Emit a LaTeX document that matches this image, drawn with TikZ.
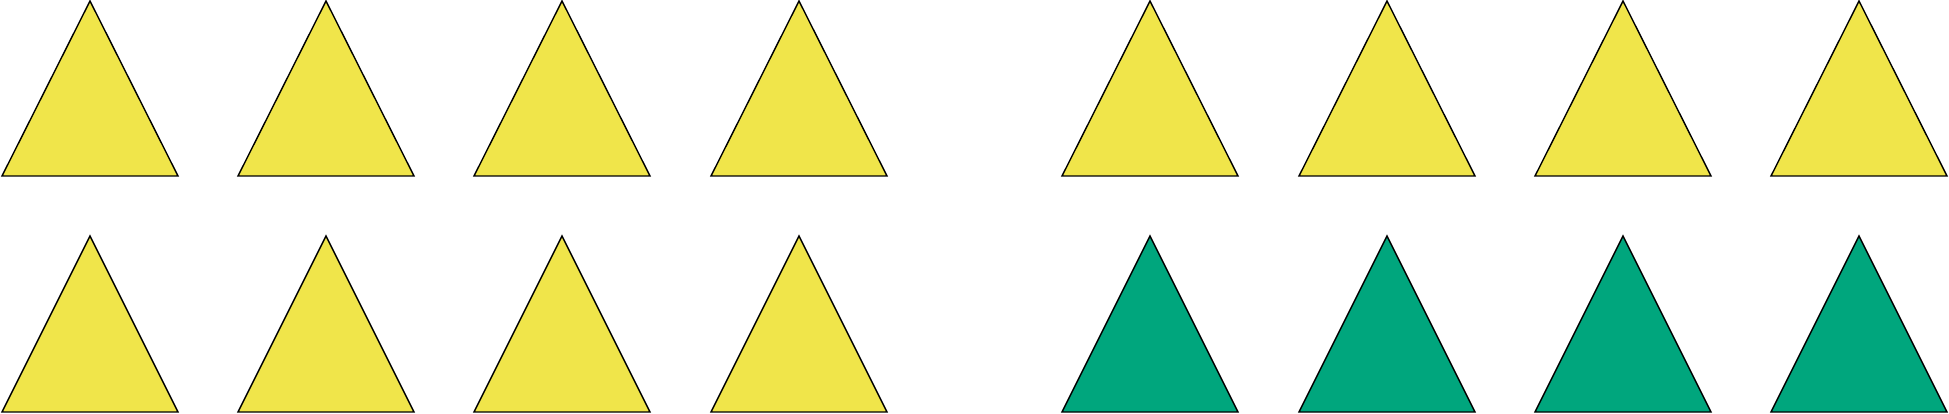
\documentclass[tikz,border=0pt]{standalone}
\usepackage{xcolor,tikz}
\usetikzlibrary{positioning}
\definecolor{TriYellow}{HTML}{F0E54A}
\definecolor{TriGreen}{HTML}{00A67D}
\tikzset{tri/.style={draw=black,line width=1.4pt,line join=miter}}
\begin{document}
\begin{tikzpicture}[x=1pt,y=-1pt]
\useasboundingbox (0,0) rectangle (1949,414);
% top row
\foreach \x in {90,326,562,799,1150,1387,1623,1859}
 \draw[tri,fill=TriYellow] (\x,1)--++(88,175)--++(-176,0)--cycle;
% bottom row
\foreach \x/\c in {90/TriYellow,326/TriYellow,562/TriYellow,799/TriYellow,
 1150/TriGreen,1387/TriGreen,1623/TriGreen,1859/TriGreen}
 \draw[tri,fill=\c] (\x,236)--++(88,176)--++(-176,0)--cycle;
\end{tikzpicture}
\end{document}
